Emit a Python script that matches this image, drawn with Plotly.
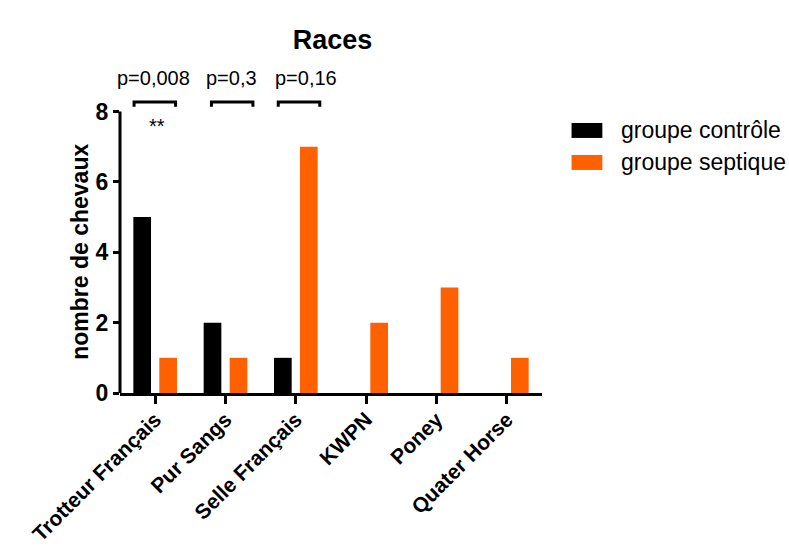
import plotly.graph_objects as go

# Breed counts per group
categories = ["Trotteur Français", "Pur Sangs", "Selle Français", "KWPN", "Poney", "Quater Horse"]
series_names = ["groupe contrôle", "groupe septique"]
controle = [5, 2, 1, 0, 0, 0]
septique = [1, 1, 7, 2, 3, 1]

# Statistical comparisons shown above the first three breeds
p_labels = ["p=0,008", "p=0,3", "p=0,16"]
stars = ["**", "", ""]

colors = ["#000000", "#FF6000"]
FONT = "Liberation Sans, Arial, sans-serif"
Y_MAX = 8.5

fig = go.Figure()
for name, vals, col in zip(series_names, [controle, septique], colors):
    fig.add_trace(go.Bar(
        x=categories, y=vals, name=name,
        marker=dict(color=col, line=dict(width=0)),
        showlegend=False,
    ))

shapes = []
annotations = []

# y axis line drawn only from 0 to 8
shapes.append(dict(type="line", xref="paper", yref="y", x0=0, x1=0, y0=0, y1=8,
                   line=dict(color="black", width=3)))

# comparison brackets (x offsets relative to category centre)
bracket_span = [(-0.30, 0.29), (-0.20, 0.39), (-0.25, 0.34)]
label_shift = [-0.02, 0.09, 0.14]
y_top, y_end = 8.27, 8.14
for i, (a, b) in enumerate(bracket_span):
    x0, x1 = i + a, i + b
    shapes.append(dict(
        type="path", xref="x", yref="y",
        path=f"M {x0},{y_end} L {x0},{y_top} L {x1},{y_top} L {x1},{y_end}",
        line=dict(color="black", width=3),
    ))
    annotations.append(dict(
        x=i + label_shift[i], y=8.95 / Y_MAX, xref="x", yref="paper", text=p_labels[i],
        showarrow=False, font=dict(family=FONT, size=20, color="black"),
        xanchor="center", yanchor="middle",
    ))
    if stars[i]:
        annotations.append(dict(
            x=i + 0.03, y=7.60, xref="x", yref="y", text=stars[i],
            showarrow=False, font=dict(family=FONT, size=20, color="black"),
            xanchor="center", yanchor="middle",
        ))

# y axis title
annotations.append(dict(
    x=-0.095, y=0.472, xref="paper", yref="paper", text="nombre de chevaux",
    textangle=-90, showarrow=False,
    font=dict(family=FONT, size=23, color="black", weight="bold"),
    xanchor="center", yanchor="middle",
))

# legend: coloured swatches with labels
legend_rows = [0.878, 0.771]
for name, col, yc in zip(series_names, colors, legend_rows):
    shapes.append(dict(type="rect", xref="paper", yref="paper",
                       x0=1.070, x1=1.143, y0=yc - 0.025, y1=yc + 0.025,
                       fillcolor=col, line=dict(width=0)))
    annotations.append(dict(
        x=1.183, y=yc, xref="paper", yref="paper", text=name, showarrow=False,
        font=dict(family=FONT, size=23, color="black"),
        xanchor="left", yanchor="middle",
    ))

fig.update_layout(
    width=789, height=555,
    margin=dict(l=120, r=247, t=94, b=162),
    paper_bgcolor="white", plot_bgcolor="white",
    barmode="group", bargap=0.261, bargroupgap=0.32,
    title=dict(text="Races", x=0.4215, xanchor="center", y=0.928, yanchor="middle",
               font=dict(family=FONT, size=27, color="black", weight="bold")),
    font=dict(family=FONT, color="black"),
    shapes=shapes, annotations=annotations,
)
fig.update_xaxes(
    range=[-0.5, 5.5], showline=True, linecolor="black", linewidth=3,
    ticks="outside", ticklen=8, tickwidth=3, tickcolor="black",
    tickangle=-45, ticklabelstandoff=-5,
    tickfont=dict(family=FONT, size=21, color="black", weight="bold"),
    showgrid=False, zeroline=False, automargin=False,
)
fig.update_yaxes(
    range=[0, Y_MAX], tickvals=[0, 2, 4, 6, 8], showline=False,
    ticks="outside", ticklen=6, tickwidth=3, tickcolor="black",
    tickfont=dict(family=FONT, size=23, color="black", weight="bold"),
    showgrid=False, zeroline=False, automargin=False,
)

fig.write_html("out.html")
